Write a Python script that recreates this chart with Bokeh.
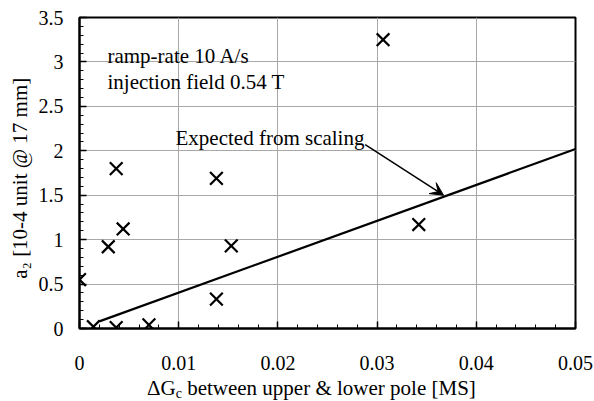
import numpy as np
from bokeh.plotting import figure
from bokeh.layouts import column
from bokeh.models import (Range1d, Label, Arrow, VeeHead, FixedTicker, Div)
from bokeh.embed import file_html
from bokeh.resources import INLINE

# data
dgc = [0.0, 0.0014, 0.0037, 0.0070, 0.0029, 0.0044, 0.0037, 0.0138, 0.0138, 0.0153, 0.0306, 0.0342]
a2 = [0.55, 0.02, 0.01, 0.04, 0.92, 1.12, 1.80, 1.69, 0.33, 0.93, 3.25, 1.17]
scaling_x = [0.002, 0.05]
scaling_y = [0.08, 2.02]

x_ticks = [0.0, 0.01, 0.02, 0.03, 0.04, 0.05]
x_tick_labels = ["0", "0.01", "0.02", "0.03", "0.04", "0.05"]
y_ticks = [0.0, 0.5, 1.0, 1.5, 2.0, 2.5, 3.0, 3.5]
y_tick_labels = ["0", "0.5", "1", "1.5", "2", "2.5", "3", "3.5"]

FONT = "Liberation Serif"

p = figure(width=594, height=378, output_backend="svg", toolbar_location=None,
           x_range=Range1d(0, 0.05), y_range=Range1d(0, 3.5),
           min_border_left=79, min_border_right=19, min_border_top=17, min_border_bottom=50,
           margin=0)

p.outline_line_color = "black"
p.outline_line_width = 2
p.background_fill_color = "white"
p.border_fill_color = "white"

for g in (p.xgrid[0], p.ygrid[0]):
    g.grid_line_color = "#a8a8a8"
    g.grid_line_width = 1

xa = p.xaxis[0]
ya = p.yaxis[0]
xa.ticker = FixedTicker(ticks=x_ticks, minor_ticks=list(np.round(np.arange(0, 0.0501, 0.002), 4)))
ya.ticker = FixedTicker(ticks=y_ticks, minor_ticks=list(np.round(np.arange(0, 3.501, 0.1), 2)))
xa.major_label_overrides = {t: l for t, l in zip(x_ticks, x_tick_labels)}
ya.major_label_overrides = {t: l for t, l in zip(y_ticks, y_tick_labels)}

for ax in (xa, ya):
    ax.axis_line_color = "black"
    ax.axis_line_width = 2
    ax.major_tick_in = 7
    ax.major_tick_out = 0
    ax.minor_tick_in = 4
    ax.minor_tick_out = 0
    ax.major_tick_line_color = "black"
    ax.minor_tick_line_color = "black"
    ax.major_tick_line_width = 1.5
    ax.minor_tick_line_width = 1
    ax.major_label_text_font = FONT
    ax.major_label_text_font_size = "20px"
    ax.major_label_text_color = "black"

xa.major_label_standoff = 27
ya.major_label_standoff = 16

ya.axis_label = "a\u2082   [10-4 unit @ 17 mm]"
ya.axis_label_text_font = FONT
ya.axis_label_text_font_size = "21px"
ya.axis_label_text_font_style = "normal"
ya.axis_label_text_color = "black"
ya.axis_label_standoff = 4

# data
p.line(scaling_x, scaling_y, line_color="black", line_width=2.2)
p.scatter(dgc, a2, marker="x", size=18, line_color="black", line_width=2.2)

# annotations
def lab(x, y, text, size="21px", **kw):
    p.add_layout(Label(x=x, y=y, text=text, text_font=FONT, text_font_size=size,
                       text_color="black", text_baseline="alphabetic", **kw))

lab(0.00282, 3.07, "ramp-rate 10 A/s")
lab(0.00282, 2.77, "injection field 0.54 T")
lab(0.00968, 2.148, "Expected from scaling")

p.add_layout(Arrow(end=VeeHead(size=13, fill_color="black", line_color="black"),
                   x_start=0.0288, y_start=2.07, x_end=0.0367, y_end=1.50,
                   line_color="black", line_width=1.5))

# x axis title with subscript (HTML text below the plot)
xtitle = Div(
    text=('<div style="font-family:\'Liberation Serif\';font-size:21px;line-height:22px;'
          'white-space:nowrap;color:black;padding-left:147px;position:relative;top:-1px;">'
          '\u0394G<span style="font-size:14px;line-height:14px;vertical-align:-3px;">c</span>'
          ' between upper &amp; lower pole [MS]</div>'),
    width=594, height=23, margin=0)

layout = column(p, xtitle, spacing=0, margin=0)

open("out.html", "w").write(file_html(layout, INLINE))
